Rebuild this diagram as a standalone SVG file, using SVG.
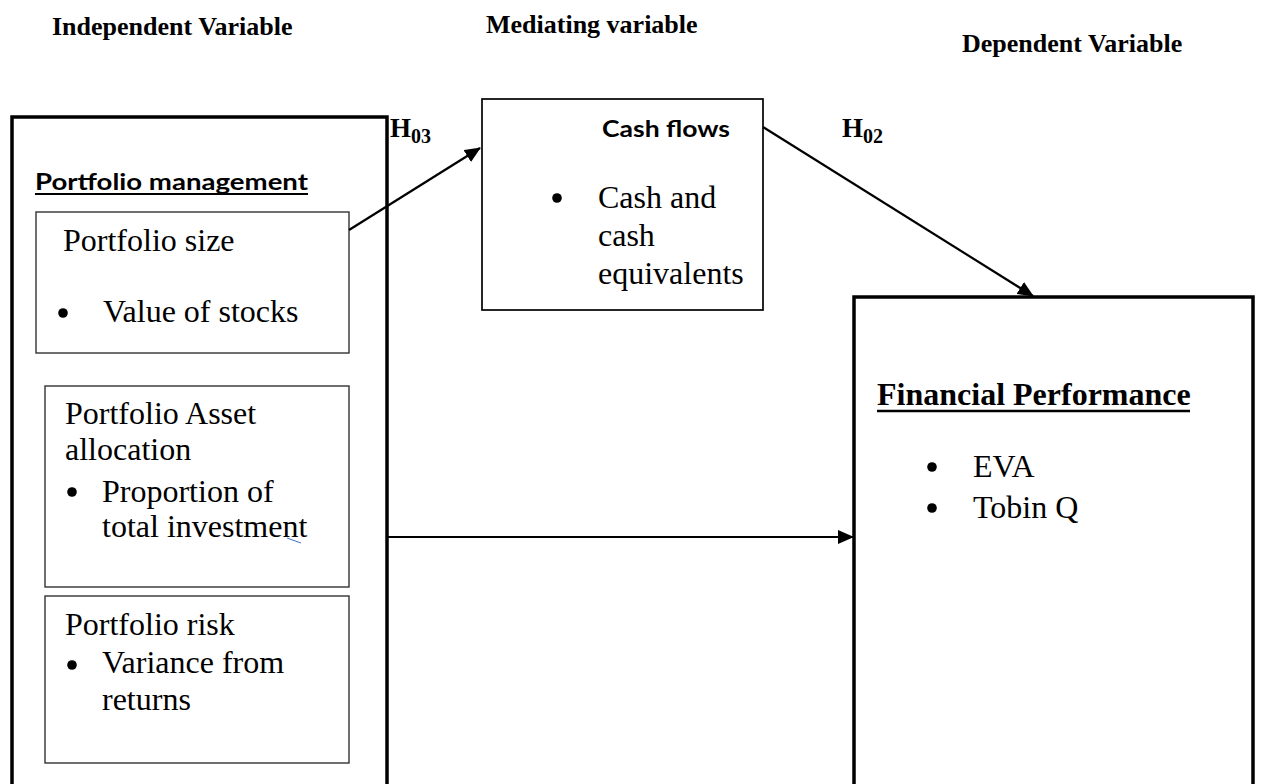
<svg xmlns="http://www.w3.org/2000/svg" width="1264" height="784" viewBox="0 0 1264 784">
<defs>
<style>
.hdr{font-family:"Liberation Serif","Times New Roman",serif;font-weight:bold;font-size:26px;fill:#000}
.body{font-family:"Liberation Serif","Times New Roman",serif;font-size:32px;fill:#000}
.sans{font-family:Lato,"Liberation Sans",Arial,sans-serif;font-weight:bold;font-size:22px;fill:#000}
.hyp{font-family:"Liberation Serif","Times New Roman",serif;font-weight:bold;font-size:27px;fill:#000}
.thick{fill:#fff;stroke:#000;stroke-width:3.5}
.mid{fill:#fff;stroke:#000;stroke-width:1.7}
.thin{fill:#fff;stroke:#333;stroke-width:1.4}
.conn{stroke:#000;stroke-width:2.2;fill:none}
</style>
<marker id="arr" markerWidth="16" markerHeight="14" refX="15" refY="7" orient="auto" markerUnits="userSpaceOnUse">
<path d="M0,0 L16,7 L0,14 Z" fill="#000"/>
</marker>
</defs>
<rect width="1264" height="784" fill="#fff"/>

<g id="headers">
<text class="hdr" x="52" y="35">Independent Variable</text>
<text class="hdr" x="486" y="33">Mediating variable</text>
<text class="hdr" x="962" y="52">Dependent Variable</text>
</g>

<g id="portfolio-management">
<rect class="thick" x="12" y="117" width="375" height="700"/>
<text class="sans" x="35" y="190" textLength="273" lengthAdjust="spacingAndGlyphs">Portfolio management</text>
<line x1="35" y1="194" x2="308" y2="194" stroke="#000" stroke-width="2"/>
</g>

<g id="portfolio-size">
<rect class="thin" x="36" y="212" width="313" height="141"/>
<text class="body" x="63" y="251">Portfolio size</text>
<circle cx="63" cy="313" r="4.8" fill="#000"/>
<text class="body" x="103" y="322">Value of stocks</text>
</g>

<g id="asset-allocation">
<rect class="thin" x="45" y="386" width="304" height="201"/>
<text class="body" x="65" y="424">Portfolio Asset</text>
<text class="body" x="65" y="460">allocation</text>
<circle cx="72" cy="492" r="4.8" fill="#000"/>
<text class="body" x="102" y="502">Proportion of</text>
<text class="body" x="102" y="537">total investment</text>
<line x1="287" y1="538" x2="301" y2="543" stroke="#4472c4" stroke-width="1"/>
</g>

<g id="portfolio-risk">
<rect class="thin" x="45" y="596" width="304" height="167"/>
<text class="body" x="65" y="635">Portfolio risk</text>
<circle cx="72" cy="665" r="4.8" fill="#000"/>
<text class="body" x="102" y="673">Variance from</text>
<text class="body" x="102" y="710">returns</text>
</g>

<g id="cash-flows">
<rect class="mid" x="482" y="99" width="281" height="211"/>
<text class="sans" x="602" y="137" textLength="128" lengthAdjust="spacingAndGlyphs">Cash flows</text>
<circle cx="557" cy="198" r="4.8" fill="#000"/>
<text class="body" x="598" y="208">Cash and</text>
<text class="body" x="598" y="246">cash</text>
<text class="body" x="598" y="284">equivalents</text>
</g>

<g id="financial-performance">
<rect class="thick" x="854" y="297" width="399" height="600"/>
<text class="body" x="877" y="405" font-weight="bold">Financial Performance</text>
<line x1="877" y1="411" x2="1190" y2="411" stroke="#000" stroke-width="2.5"/>
<circle cx="932" cy="467" r="4.8" fill="#000"/>
<text class="body" x="973" y="477">EVA</text>
<circle cx="932" cy="508" r="4.8" fill="#000"/>
<text class="body" x="973" y="518">Tobin Q</text>
</g>

<g id="connectors">
<line class="conn" x1="349" y1="230" x2="480" y2="148" marker-end="url(#arr)"/>
<line class="conn" x1="763" y1="127" x2="1033" y2="296" marker-end="url(#arr)"/>
<line class="conn" x1="387" y1="537" x2="853" y2="537" marker-end="url(#arr)"/>
</g>

<g id="hypotheses">
<text class="hyp" x="390" y="137">H<tspan font-size="20" dy="6">03</tspan></text>
<text class="hyp" x="842" y="137">H<tspan font-size="20" dy="6">02</tspan></text>
</g>
</svg>
